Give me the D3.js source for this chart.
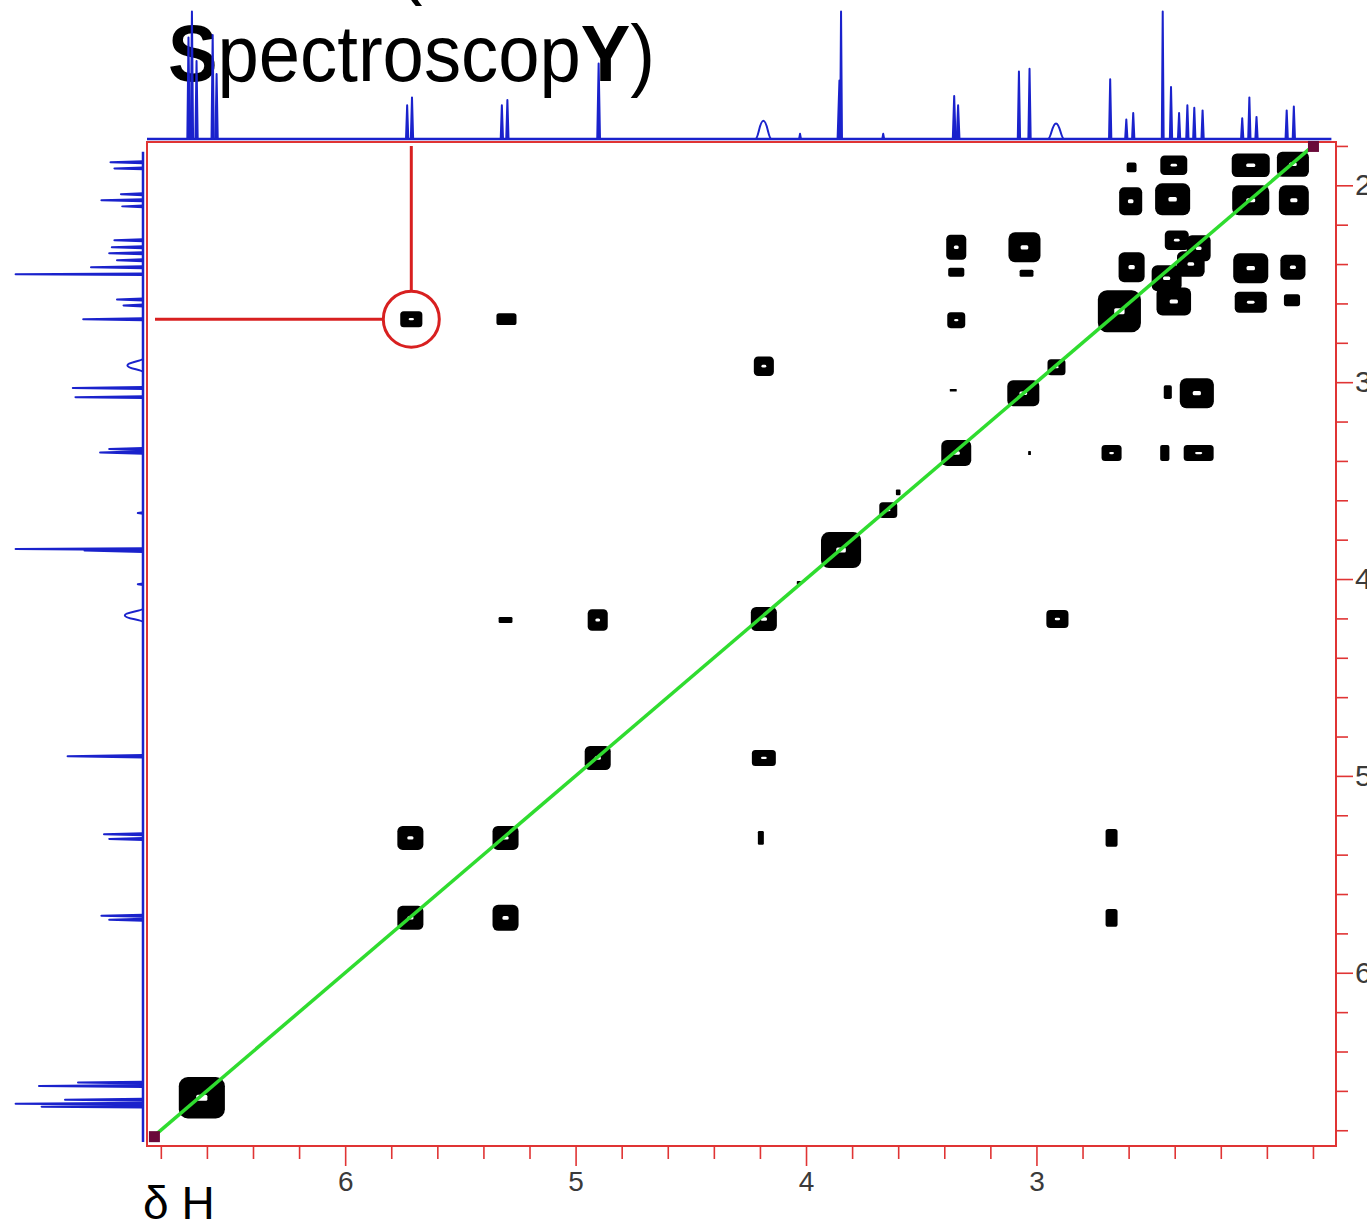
<!doctype html>
<meta charset="utf-8">
<style>
  body { margin: 0; background: #fff; }
  svg { display: block; }
  text { font-family: "Liberation Sans", Arial, sans-serif; }
</style>
<body>
<script src="https://d3js.org/d3.v7.min.js"></script>
<script>
// 1D proton spectrum peaks: [ppm, relative intensity 0-100, half width ppm]
var peaks = [
  [6.680, 78, 0.005], [6.665, 98, 0.005], [6.645, 60, 0.005],
  [6.575, 80, 0.005], [6.558, 50, 0.005],
  [5.731, 26, 0.005], [5.710, 32, 0.005],
  [5.320, 26, 0.005], [5.296, 30, 0.005],
  [4.900, 58, 0.006],
  [4.185, 14, 0.035],
  [4.026, 4, 0.004],
  [3.855, 45, 0.008], [3.848, 98, 0.004],
  [3.665, 4, 0.004],
  [3.357, 33, 0.006], [3.340, 26, 0.006],
  [3.076, 52, 0.005],
  [3.030, 54, 0.005],
  [2.915, 12, 0.035],
  [2.680, 46, 0.005],
  [2.610, 15, 0.005], [2.580, 20, 0.005],
  [2.452, 98, 0.004], [2.416, 40, 0.005], [2.381, 20, 0.005],
  [2.345, 26, 0.005], [2.315, 24, 0.005], [2.279, 22, 0.005],
  [2.107, 16, 0.005], [2.076, 32, 0.005], [2.045, 17, 0.005],
  [1.914, 22, 0.005], [1.883, 25, 0.005]
];

// COSY cross peaks: [F2 ppm, F1 ppm, width ppm, height ppm]
var crossPeaks = [
  // diagonal
  [6.622, 6.635, 0.200, 0.210],
  [5.717, 5.721, 0.113, 0.122],
  [5.304, 5.315, 0.113, 0.122],
  [4.904, 4.909, 0.113, 0.122],
  [4.183, 4.203, 0.113, 0.122],
  [3.848, 3.853, 0.174, 0.183],
  [3.643, 3.650, 0.078, 0.081],
  [3.348, 3.360, 0.130, 0.132],
  [3.057, 3.056, 0.139, 0.132],
  [2.913, 2.924, 0.078, 0.081],
  [2.640, 2.640, 0.187, 0.213],
  [2.435, 2.472, 0.130, 0.132],
  [2.330, 2.400, 0.120, 0.130],
  [2.391, 2.279, 0.104, 0.100],
  [2.296, 2.320, 0.104, 0.132],
  [2.070, 2.076, 0.161, 0.152],
  [1.887, 1.893, 0.139, 0.127],
  // upfield cluster
  [2.404, 2.590, 0.150, 0.142],
  [2.587, 2.416, 0.113, 0.152],
  [2.587, 1.909, 0.043, 0.050],
  [2.404, 1.898, 0.117, 0.100],
  [2.070, 1.898, 0.165, 0.120],
  [2.591, 2.081, 0.100, 0.142],
  [2.409, 2.071, 0.152, 0.162],
  [1.883, 2.076, 0.130, 0.152],
  [2.070, 2.421, 0.152, 0.152],
  [1.887, 2.416, 0.109, 0.127],
  [2.070, 2.594, 0.139, 0.107],
  [1.891, 2.584, 0.070, 0.060],
  [3.348, 2.315, 0.087, 0.127],
  [3.348, 2.442, 0.070, 0.046],
  [3.052, 2.315, 0.139, 0.152],
  [3.043, 2.447, 0.060, 0.036],
  [3.348, 2.685, 0.078, 0.081],
  [3.361, 3.041, 0.030, 0.012],
  [2.430, 3.051, 0.035, 0.070],
  [2.304, 3.056, 0.148, 0.152],
  [3.030, 3.360, 0.012, 0.020],
  [2.674, 3.360, 0.087, 0.081],
  [2.443, 3.360, 0.040, 0.081],
  [2.296, 3.360, 0.130, 0.081],
  // downfield correlations
  [5.713, 2.680, 0.096, 0.081],
  [5.300, 2.680, 0.087, 0.060],
  [4.183, 2.919, 0.087, 0.100],
  [5.304, 4.208, 0.060, 0.030],
  [4.904, 4.208, 0.087, 0.110],
  [2.909, 4.203, 0.096, 0.091],
  [4.183, 4.909, 0.104, 0.081],
  [5.717, 5.315, 0.113, 0.122],
  [4.196, 5.315, 0.026, 0.070],
  [2.674, 5.315, 0.052, 0.091],
  [5.304, 5.721, 0.113, 0.132],
  [2.674, 5.721, 0.052, 0.091],
  [3.600, 3.560, 0.020, 0.030],
  [4.030, 4.020, 0.020, 0.020]
];

var diagonal = [6.83, 1.80];   // ends of the diagonal line
var marked = [5.713, 2.680];   // circled cross peak

var xMajor = [6, 5, 4, 3],
    xMinor = [6.8, 6.6, 6.4, 6.2, 5.8, 5.6, 5.4, 5.2, 4.8, 4.6, 4.4, 4.2,
              3.8, 3.6, 3.4, 3.2, 2.8, 2.6, 2.4, 2.2, 2.0, 1.8],
    yMajor = [2, 3, 4, 5, 6],
    yMinor = [1.8, 2.2, 2.4, 2.6, 2.8, 3.2, 3.4, 3.6, 3.8, 4.2, 4.4, 4.6,
              4.8, 5.2, 5.4, 5.6, 5.8, 6.2, 6.4, 6.6, 6.8];

var titleLines = [
  [["COSY (", 400], ["CO", 700], ["rrelation", 400]],
  [["S", 700], ["pectroscop", 400], ["Y", 700], [")", 400]]
];

var
  W = 1367, H = 1225,
  plotL = 147, plotR = 1336, plotT = 142, plotB = 1146,
  red = "#e03434", blue = "#1a22cc"
;

var svg = d3.select("body").append("svg").attr("width", W).attr("height", H);

var x = d3.scaleLinear().domain([6.86, 1.70]).range([plotL, plotR]),
    y = d3.scaleLinear().domain([1.78, 6.88]).range([plotT, plotB]),
    topI = d3.scaleLinear().domain([0, 100]).range([139, 9]),
    leftI = d3.scaleLinear().domain([0, 100]).range([143, 13]);

// title (first line runs off the top of the picture)
var title = svg.append("g").attr("transform", "translate(168,0) scale(0.94,1)");
title.selectAll("text")
  .data(titleLines)
  .enter().append("text")
    .attr("x", 0)
    .attr("y", function(d, i){ return -11 + i * 92; })
    .style("font-size", "79px")
    .style("fill", "#000")
  .selectAll("tspan")
  .data(function(d){ return d; })
  .enter().append("tspan")
    .style("font-weight", function(d){ return d[1]; })
    .text(function(d){ return d[0]; });

// frame
svg.append("rect")
  .attr("x", plotL).attr("y", plotT)
  .attr("width", plotR - plotL).attr("height", plotB - plotT)
  .style("fill", "#fff").style("stroke", red).style("stroke-width", 2);

// axes
function styleAxis(g){
  g.select(".domain").remove();
  g.selectAll("line").style("stroke", red).style("stroke-width", 1.6);
  g.selectAll("text").style("fill", "#3a3a3a").style("font-family", "'Liberation Sans', Arial, sans-serif");
}
svg.append("g").attr("transform", "translate(0," + plotB + ")")
  .call(d3.axisBottom(x).tickValues(xMinor).tickSize(13).tickFormat(""))
  .call(styleAxis);
svg.append("g").attr("transform", "translate(0," + plotB + ")")
  .call(d3.axisBottom(x).tickValues(xMajor).tickSize(20).tickPadding(5).tickFormat(d3.format("d")))
  .call(styleAxis)
  .selectAll("text").style("font-size", "28px");
svg.append("g").attr("transform", "translate(" + plotR + ",0)")
  .call(d3.axisRight(y).tickValues(yMinor).tickSize(12).tickFormat(""))
  .call(styleAxis);
svg.append("g").attr("transform", "translate(" + plotR + ",0)")
  .call(d3.axisRight(y).tickValues(yMajor).tickSize(17).tickPadding(2).tickFormat(d3.format("d")))
  .call(styleAxis)
  .selectAll("text").style("font-size", "30px");

// 1D projections
svg.append("line")
  .attr("x1", plotL).attr("x2", x(1.72)).attr("y1", topI(0)).attr("y2", topI(0))
  .style("stroke", blue).style("stroke-width", 2.5);
svg.append("line")
  .attr("x1", leftI(0)).attr("x2", leftI(0)).attr("y1", y(1.83)).attr("y2", y(6.86))
  .style("stroke", blue).style("stroke-width", 2.5);

function isBroad(p){ return p[2] > 0.02; }

// sharp lines are filled spikes, broad lines are open humps
function peakPath(p, px, py){
  var a = p[0] + p[2], b = p[0] - p[2], c = p[0];
  if(!isBroad(p)){
    return "M" + px(a, 0) + "L" + px(c, p[1]) + "L" + px(b, 0) + "Z";
  }
  return "M" + px(a, 0) +
    "C" + px(a - p[2] * 0.4, 0) + " " + px(a - p[2] * 0.5, p[1]) + " " + px(c, p[1]) +
    "C" + px(b + p[2] * 0.5, p[1]) + " " + px(b + p[2] * 0.4, 0) + " " + px(b, 0);
}
function topPt(ppm, v){ return x(ppm) + "," + topI(v); }
function leftPt(ppm, v){ return leftI(v) + "," + y(ppm); }

svg.append("g").selectAll("path")
  .data(peaks)
  .enter().append("path")
    .attr("d", function(p){ return peakPath(p, topPt); })
    .style("fill", function(p){ return isBroad(p) ? "none" : blue; })
    .style("stroke", blue).style("stroke-width", 2).style("stroke-linejoin", "round");

svg.append("g").selectAll("path")
  .data(peaks)
  .enter().append("path")
    .attr("d", function(p){ return peakPath(p, leftPt); })
    .style("fill", function(p){ return isBroad(p) ? "none" : blue; })
    .style("stroke", blue).style("stroke-width", 2).style("stroke-linejoin", "round");

// cross peak contours
var cp = svg.append("g").selectAll("g")
  .data(crossPeaks)
  .enter().append("g");

cp.append("rect")
  .attr("x", function(p){ return x(p[0] + p[2] / 2); })
  .attr("y", function(p){ return y(p[1] - p[3] / 2); })
  .attr("width", function(p){ return x(p[0] - p[2] / 2) - x(p[0] + p[2] / 2); })
  .attr("height", function(p){ return y(p[1] + p[3] / 2) - y(p[1] - p[3] / 2); })
  .attr("rx", function(p){ return 0.22 * Math.min(p[2] * 230, p[3] * 197); })
  .style("fill", "#000");

cp.filter(function(p){ return p[2] * 230 > 14 && p[3] * 197 > 12; })
  .append("rect")
  .attr("x", function(p){ return x(p[0] + p[2] * 0.12); })
  .attr("y", function(p){ return y(p[1] - p[3] * 0.07); })
  .attr("width", function(p){ return x(p[0] - p[2] * 0.12) - x(p[0] + p[2] * 0.12); })
  .attr("height", function(p){ return y(p[1] + p[3] * 0.07) - y(p[1] - p[3] * 0.07); })
  .attr("rx", 1.5)
  .style("fill", "#fff");

// diagonal
svg.append("line")
  .attr("x1", x(diagonal[0])).attr("y1", y(diagonal[0]))
  .attr("x2", x(diagonal[1])).attr("y2", y(diagonal[1]))
  .style("stroke", "#2fdc2f").style("stroke-width", 3.5);

svg.selectAll("rect.corner")
  .data(diagonal)
  .enter().append("rect")
    .attr("class", "corner")
    .attr("x", function(d){ return x(d) - 5; })
    .attr("y", function(d){ return y(d) - 5; })
    .attr("width", 11).attr("height", 11)
    .style("fill", "#6a0a3a");

// annotation of the marked cross peak
var mx = x(marked[0]), my = y(marked[1]), r = 28;
svg.append("line").attr("x1", mx).attr("x2", mx).attr("y1", plotT + 4).attr("y2", my - r)
  .style("stroke", "#d82020").style("stroke-width", 3);
svg.append("line").attr("x1", plotL + 8).attr("x2", mx - r).attr("y1", my).attr("y2", my)
  .style("stroke", "#d82020").style("stroke-width", 3);
svg.append("circle").attr("cx", mx).attr("cy", my).attr("r", r)
  .style("fill", "none").style("stroke", "#d82020").style("stroke-width", 3);

// axis name
svg.append("text").attr("x", 143).attr("y", 1219)
  .style("font-size", "46px").style("fill", "#000")
  .text("δ H");
</script>
</body>
